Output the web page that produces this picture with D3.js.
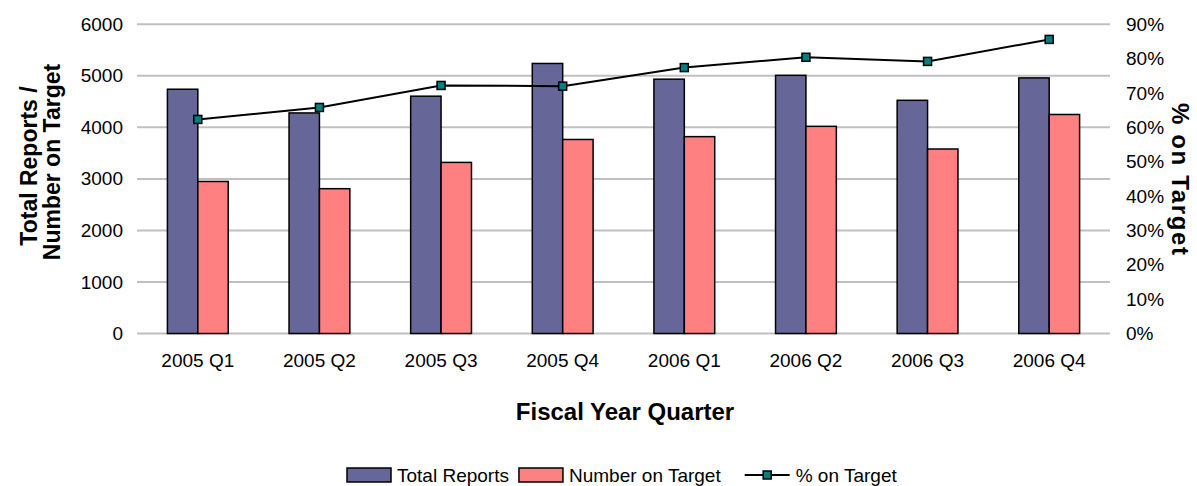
<!DOCTYPE html>
<html>
<head>
<meta charset="utf-8">
<script src="https://cdn.jsdelivr.net/npm/d3@7"></script>
<style>
  html, body { margin: 0; padding: 0; background: #fff; }
  svg { display: block; font-family: "Liberation Sans", Arial, sans-serif; }
</style>
</head>
<body>
<svg id="chart" width="1197" height="486"></svg>
<script>
const categories = ["2005 Q1", "2005 Q2", "2005 Q3", "2005 Q4", "2006 Q1", "2006 Q2", "2006 Q3", "2006 Q4"];
const totalReports = [4740, 4280, 4605, 5240, 4935, 5010, 4525, 4960];
const numberOnTarget = [2950, 2810, 3320, 3765, 3820, 4020, 3580, 4250];
const pctOnTarget = [0.623, 0.658, 0.722, 0.720, 0.774, 0.804, 0.792, 0.856];
const leftTicks = [0, 1000, 2000, 3000, 4000, 5000, 6000];
const rightTicks = [0, 0.1, 0.2, 0.3, 0.4, 0.5, 0.6, 0.7, 0.8, 0.9];
const seriesNames = ["Total Reports", "Number on Target", "% on Target"];

const colors = { total: "#666699", target: "#FF8080", marker: "#008080", grid: "#c0c0c0" };
const svg = d3.select("#chart");
const plotL = 137, plotR = 1110, plotT = 24.3, plotB = 333.5;

const x = d3.scaleBand().domain(categories).range([plotL, plotR]).padding(0);
const yL = d3.scaleLinear().domain([0, 6000]).range([plotB, plotT]);
const yR = d3.scaleLinear().domain([0, 0.9]).range([plotB, plotT]);
const bw = x.bandwidth() / 4;
const FONT = "Liberation Sans, Arial, sans-serif";

// gridlines
svg.append("g").selectAll("line").data(leftTicks).join("line")
  .attr("x1", plotL).attr("x2", plotR)
  .attr("y1", d => yL(d)).attr("y2", d => yL(d))
  .attr("stroke", colors.grid).attr("stroke-width", 2);

// left axis
const gL = svg.append("g").attr("transform", `translate(${plotL - 14},0)`)
  .call(d3.axisLeft(yL).tickValues(leftTicks).tickSize(0).tickPadding(0).tickFormat(d3.format("d")));
gL.select(".domain").remove();
gL.selectAll("text").attr("font-size", 19).attr("font-family", FONT).attr("fill", "#000");

// right axis
const gR = svg.append("g").attr("transform", `translate(${plotR + 16},0)`)
  .call(d3.axisRight(yR).tickValues(rightTicks).tickSize(0).tickPadding(0).tickFormat(d3.format(".0%")));
gR.select(".domain").remove();
gR.selectAll("text").attr("font-size", 19).attr("font-family", FONT).attr("fill", "#000");

// x axis labels
const gX = svg.append("g").attr("transform", `translate(0,${plotB + 20})`)
  .call(d3.axisBottom(x).tickSize(0).tickPadding(0));
gX.select(".domain").remove();
gX.selectAll("text").attr("font-size", 19).attr("font-family", FONT).attr("fill", "#000").attr("dy", "0.71em");

// bars
const cx = c => x(c) + x.bandwidth() / 2;
svg.append("g").selectAll("rect").data(categories).join("rect")
  .attr("x", d => cx(d) - bw).attr("width", bw)
  .attr("y", (d, i) => yL(totalReports[i])).attr("height", (d, i) => yL(0) - yL(totalReports[i]))
  .attr("fill", colors.total).attr("stroke", "#000").attr("stroke-width", 1.5);
svg.append("g").selectAll("rect").data(categories).join("rect")
  .attr("x", d => cx(d)).attr("width", bw)
  .attr("y", (d, i) => yL(numberOnTarget[i])).attr("height", (d, i) => yL(0) - yL(numberOnTarget[i]))
  .attr("fill", colors.target).attr("stroke", "#000").attr("stroke-width", 1.5);

// line
const line = d3.line().x((d, i) => cx(categories[i])).y(d => yR(d));
svg.append("path").datum(pctOnTarget).attr("d", line)
  .attr("fill", "none").attr("stroke", "#000").attr("stroke-width", 2);
svg.append("g").selectAll("rect").data(pctOnTarget).join("rect")
  .attr("x", (d, i) => cx(categories[i]) - 4).attr("y", d => yR(d) - 4)
  .attr("width", 8).attr("height", 8)
  .attr("fill", colors.marker).attr("stroke", "#000").attr("stroke-width", 1.5);

// axis titles
const TS = 23;
svg.append("text").attr("transform", "translate(37,166) rotate(-90)")
  .attr("font-size", TS).attr("font-weight", "bold").attr("text-anchor", "middle")
  .text("Total Reports /");
svg.append("text").attr("transform", "translate(60,162) rotate(-90)")
  .attr("font-size", TS).attr("font-weight", "bold").attr("text-anchor", "middle")
  .text("Number on Target");
svg.append("text").attr("transform", "translate(1172,179) rotate(90)")
  .attr("font-size", 24).attr("font-weight", "bold").attr("text-anchor", "middle")
  .attr("textLength", 152).attr("lengthAdjust", "spacing")
  .text("% on Target");
svg.append("text").attr("x", 625).attr("y", 420)
  .attr("font-size", 24).attr("font-weight", "bold").attr("text-anchor", "middle")
  .text("Fiscal Year Quarter");

// legend
const lg = svg.append("g");
let lx = 347;
const ly = 475;
function addText(t, xx) {
  const el = lg.append("text").attr("x", xx).attr("y", ly).attr("dy", "0.35em")
    .attr("font-size", 19).text(t);
  return el.node().getComputedTextLength();
}
[[seriesNames[0], colors.total], [seriesNames[1], colors.target]].forEach(([name, col]) => {
  lg.append("rect").attr("x", lx).attr("y", ly - 7).attr("width", 44).attr("height", 14)
    .attr("fill", col).attr("stroke", "#000").attr("stroke-width", 1.5);
  const w = addText(name, lx + 50);
  lx = lx + 50 + w + 10;
});
lx += 14;
lg.append("line").attr("x1", lx).attr("x2", lx + 45).attr("y1", ly).attr("y2", ly)
  .attr("stroke", "#000").attr("stroke-width", 2);
lg.append("rect").attr("x", lx + 22.5 - 4).attr("y", ly - 4).attr("width", 8).attr("height", 8)
  .attr("fill", colors.marker).attr("stroke", "#000").attr("stroke-width", 1.5);
addText(seriesNames[2], lx + 51);
</script>
</body>
</html>
